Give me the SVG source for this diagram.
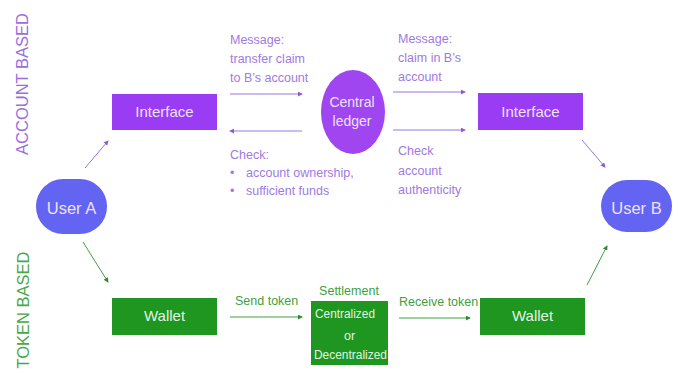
<svg xmlns="http://www.w3.org/2000/svg" width="679" height="374" viewBox="0 0 679 374">
<defs>
<marker id="ap" viewBox="0 0 6 6" refX="5" refY="3" markerWidth="5" markerHeight="5" orient="auto"><path d="M0,0 L6,3 L0,6 z" fill="#8a5cd6"/></marker>
<marker id="ag" viewBox="0 0 6 6" refX="5" refY="3" markerWidth="5" markerHeight="5" orient="auto"><path d="M0,0 L6,3 L0,6 z" fill="#2e8b2e"/></marker>
</defs>
<style>
text{font-family:"Liberation Sans",Arial,sans-serif;}
.lbl{font-size:12.5px;fill:#a07ae0;}
.glbl{font-size:12.5px;fill:#3f9f3f;}
.box{font-size:15px;fill:#ece2ff;text-anchor:middle;}
.gbox{font-size:15px;fill:#e0f5e0;text-anchor:middle;}
.st{font-size:12.5px;fill:#e0f5e0;}
.pl{stroke:#9a74dc;stroke-width:1;fill:none;marker-end:url(#ap);}
.gl{stroke:#3f9f3f;stroke-width:1;fill:none;marker-end:url(#ag);}
.side{font-size:16.5px;text-anchor:middle;}
</style>
<rect width="679" height="374" fill="#ffffff"/>
<text class="side" transform="translate(28,84) rotate(-90)" fill="#9b6ee0">ACCOUNT BASED</text>
<text class="side" transform="translate(29,310) rotate(-90)" fill="#4aa84a">TOKEN BASED</text>

<g id="connectors">
<line class="pl" x1="230" y1="94" x2="302" y2="94"/>
<line class="pl" x1="302" y1="131" x2="230" y2="131"/>
<line class="pl" x1="393" y1="92" x2="465" y2="92"/>
<line class="pl" x1="393" y1="130" x2="465" y2="130"/>
<line class="pl" x1="85" y1="168" x2="108" y2="141"/>
<line class="pl" x1="582" y1="140" x2="605" y2="167"/>
<line class="gl" x1="83" y1="242" x2="108" y2="282"/>
<line class="gl" x1="587" y1="285" x2="607" y2="246"/>
<line class="gl" x1="230" y1="317" x2="302" y2="317"/>
<line class="gl" x1="399" y1="318" x2="470" y2="318"/>
</g>

<g id="interface-left"><rect x="112" y="94" width="105" height="36" fill="#9b3cf5"/><text class="box" x="164.5" y="117">Interface</text></g>
<g id="central-ledger"><ellipse cx="353" cy="112" rx="32" ry="42" fill="#a046f0"/><text class="box" x="352" y="107" style="font-size:14px">Central</text><text class="box" x="352" y="126" style="font-size:14px">ledger</text></g>
<g id="interface-right"><rect x="478" y="93" width="105" height="37" fill="#9b3cf5"/><text class="box" x="530.5" y="117">Interface</text></g>
<g id="user-a"><rect x="36" y="179" width="71" height="55" rx="27" fill="#6464f2"/><text class="box" x="71.5" y="214" style="font-size:16.5px">User A</text></g>
<g id="user-b"><rect x="601" y="180" width="71" height="52" rx="26" fill="#6464f2"/><text class="box" x="636.5" y="214" style="font-size:16.5px">User B</text></g>
<g id="wallet-left"><rect x="112" y="298" width="105" height="37" fill="#1f961f"/><text class="gbox" x="164.5" y="321">Wallet</text></g>
<g id="settlement"><text class="glbl" x="349" y="295" text-anchor="middle">Settlement</text><rect x="311" y="301" width="77" height="64" fill="#1f961f"/><text class="st" x="315" y="318" textLength="60" lengthAdjust="spacingAndGlyphs">Centralized</text><text class="st" x="344" y="340">or</text><text class="st" x="314" y="359" textLength="73" lengthAdjust="spacingAndGlyphs">Decentralized</text></g>
<g id="wallet-right"><rect x="480" y="298" width="105" height="37" fill="#1f961f"/><text class="gbox" x="532.5" y="321">Wallet</text></g>

<g id="labels">
<text class="lbl" x="230" y="44">Message:</text>
<text class="lbl" x="230" y="63">transfer claim</text>
<text class="lbl" x="230" y="82">to B’s account</text>
<text class="lbl" x="230" y="159">Check:</text>
<text class="lbl" x="230" y="177">•</text><text class="lbl" x="246" y="177">account ownership,</text>
<text class="lbl" x="230" y="195">•</text><text class="lbl" x="246" y="195">sufficient funds</text>
<text class="lbl" x="398" y="43">Message:</text>
<text class="lbl" x="398" y="62">claim in B’s</text>
<text class="lbl" x="398" y="81">account</text>
<text class="lbl" x="398" y="155">Check</text>
<text class="lbl" x="398" y="175">account</text>
<text class="lbl" x="398" y="194">authenticity</text>
<text class="glbl" x="235" y="305">Send token</text>
<text class="glbl" x="399" y="306">Receive token</text>
</g>
</svg>
